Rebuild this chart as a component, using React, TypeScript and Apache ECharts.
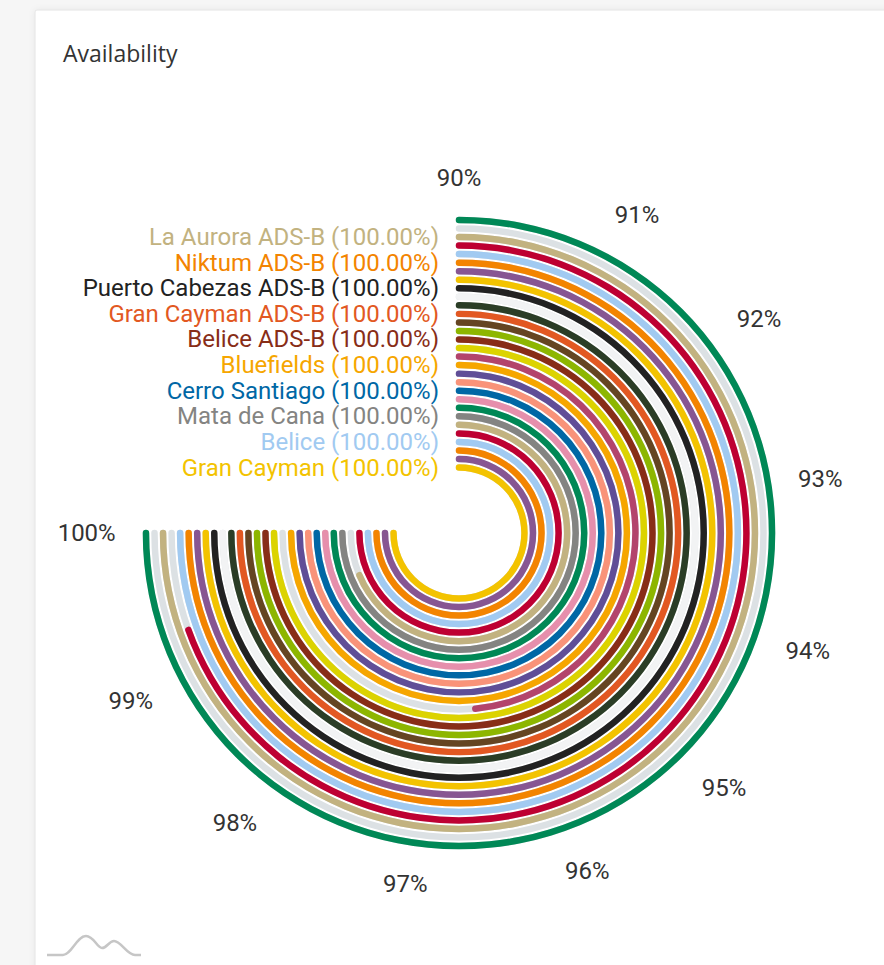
import { useEffect, useRef } from 'react';
import * as echarts from 'echarts';

// Categories, inner ring -> outer ring
const stations = [
  'Gran Cayman', 'Site 02', 'Site 03', 'Belice', 'Site 05', 'Site 06',
  'Mata de Cana', 'Site 08', 'Site 09', 'Cerro Santiago', 'Site 11', 'Site 12',
  'Bluefields', 'Site 14', 'Site 15', 'Belice ADS-B', 'Site 17', 'Site 18',
  'Gran Cayman ADS-B', 'Site 20', 'Site 21', 'Puerto Cabezas ADS-B', 'Site 23', 'Site 24',
  'Niktum ADS-B', 'Site 26', 'Site 27', 'La Aurora ADS-B', 'Site 29', 'Site 30',
];

// Availability (%) per station
const availability: (number | null)[] = [
  100, 100, 100, 100, 100, 99.15,
  100, 100, 100, 100, 100, 100,
  100, 96.47, 100, 100, 100, 100,
  100, 100, 100, 100, 100, 100,
  100, 100, 99.27, 100, null, 100,
];

const ringColors = [
  '#F3C300', '#875692', '#F38400', '#A1CAF1', '#BE0032', '#C2B280',
  '#848482', '#008856', '#E68FAC', '#0067A5', '#F99379', '#604E97',
  '#F6A600', '#B3446C', '#DCD300', '#882D17', '#8DB600', '#654522',
  '#E25822', '#2B3D26', '#F2F3F4', '#222222', '#F3C300', '#875692',
  '#F38400', '#A1CAF1', '#BE0032', '#C2B280', '#848482', '#008856',
];

const axisMin = 90;
const axisMax = 100;
const axisStep = 1;

const FONT = 'Roboto, "Noto Sans", sans-serif';

export default function App() {
  const ref = useRef<HTMLDivElement>(null);

  useEffect(() => {
    if (!ref.current) return;
    echarts.graphic.registerShape(
      'amlogo',
      echarts.graphic.extendPath(
        'M0 20 L16 20 C24 20 30 1 39 1 C47 1 50 13 55 13 C60 13 62 6 67 6 C74 6 80 20 88 20 L94 20',
        {}
      )
    );
    const chart = echarts.init(ref.current, undefined, { renderer: 'svg' });

    const rich: Record<string, any> = {};
    ringColors.forEach((c, i) => {
      rich['c' + i] = { color: c, fontSize: 24, fontFamily: FONT };
    });

    const polarBox = { center: [459, 533], radius: [61.2, 317.3] };
    const angleCommon = {
      type: 'value',
      min: axisMin,
      max: axisMax,
      interval: axisStep,
      startAngle: 90,
      endAngle: -180,
      clockwise: true,
      axisLine: { show: false },
      axisTick: { show: false },
      splitLine: { show: false },
    };
    const radiusCommon = {
      type: 'category',
      data: stations,
      axisLine: { show: false },
      axisTick: { show: false },
      splitLine: { show: false },
    };
    const barCommon = {
      type: 'bar',
      coordinateSystem: 'polar',
      barWidth: '76%',
    };

    chart.setOption({
      animation: false,
      backgroundColor: '#f6f6f6',
      title: {
        text: 'Availability',
        left: 58,
        top: 36,
        textStyle: { fontSize: 23, fontWeight: 'normal', color: '#333', fontFamily: '"Open Sans", sans-serif' },
      },
      graphic: [
        {
          type: 'rect',
          z: -10,
          silent: true,
          shape: { x: 35, y: 10, width: 880, height: 990, r: 2 },
          style: { fill: '#ffffff', stroke: '#e4e4e4', lineWidth: 1, shadowBlur: 6, shadowColor: 'rgba(0,0,0,0.06)' },
        },
        {
          type: 'amlogo',
          x: 47,
          y: 935,
          silent: true,
          style: { fill: 'none', stroke: '#c6c6c6', lineWidth: 2.5 },
        },
      ],
      polar: [polarBox, polarBox],
      angleAxis: [
        { ...angleCommon, polarIndex: 0, axisLabel: { show: false } },
        {
          ...angleCommon,
          polarIndex: 1,
          axisLabel: { formatter: '{value}%', fontSize: 24, color: '#333', fontFamily: FONT, margin: 26 },
        },
      ],
      radiusAxis: [
        { ...radiusCommon, polarIndex: 0, axisLabel: { show: false } },
        {
          ...radiusCommon,
          polarIndex: 1,
          z: 5,
          axisLabel: {
            interval: 2,
            margin: 20,
            formatter: (val: string, idx: number) => {
              const v = availability[idx];
              return `{c${idx}|${val} (${v == null ? '-' : v.toFixed(2)}%)}`;
            },
            rich,
          },
        },
      ],
      series: [
        {
          ...barCommon,
          polarIndex: 0,
          name: 'trackBase',
          stack: 'track',
          silent: true,
          z: 1,
          itemStyle: { color: 'rgba(0,0,0,0)' },
          data: stations.map(() => axisMin),
        },
        {
          ...barCommon,
          polarIndex: 0,
          name: 'track',
          stack: 'track',
          roundCap: true,
          silent: true,
          z: 1,
          itemStyle: { color: '#dce1e4' },
          data: stations.map(() => axisMax - axisMin),
        },
        {
          ...barCommon,
          polarIndex: 1,
          name: 'valueBase',
          stack: 'value',
          silent: true,
          z: 2,
          itemStyle: { color: 'rgba(0,0,0,0)' },
          data: stations.map(() => axisMin),
        },
        {
          ...barCommon,
          polarIndex: 1,
          name: 'Availability',
          stack: 'value',
          roundCap: true,
          z: 3,
          data: availability.map((v, i) => ({
            value: v == null ? null : v - axisMin,
            itemStyle: { color: ringColors[i] },
          })),
        },
      ],
    });
    return () => chart.dispose();
  }, []);

  return (
    <div
      ref={ref}
      style={{ position: 'absolute', left: 0, top: 0, width: 884, height: 965 }}
    />
  );
}
